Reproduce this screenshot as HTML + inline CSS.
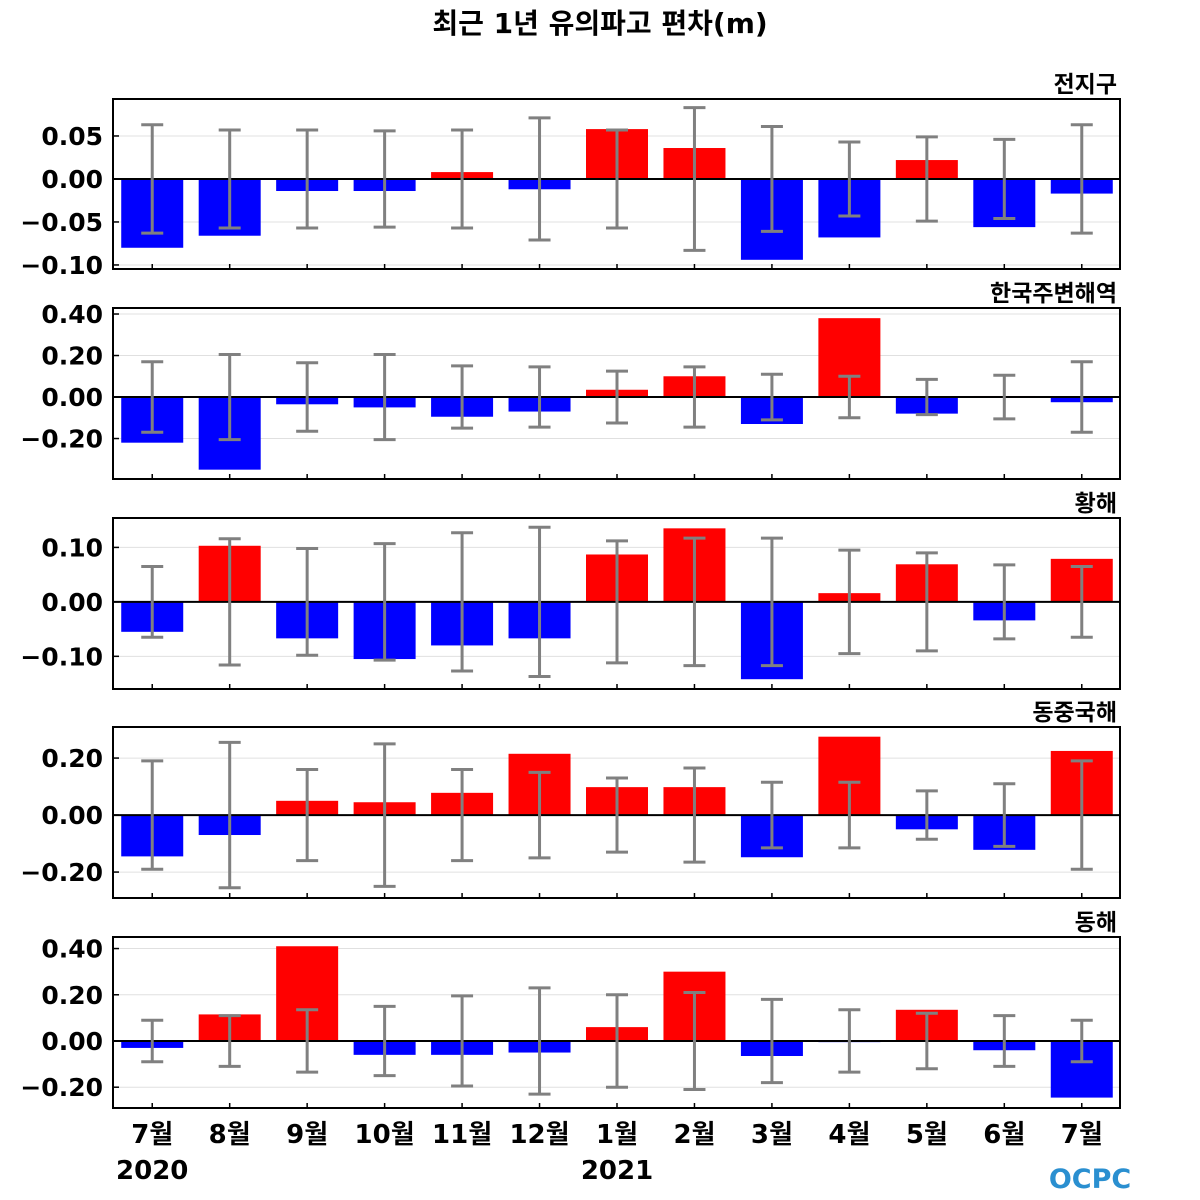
<!DOCTYPE html>
<html><head><meta charset="utf-8">
<style>
html,body{margin:0;padding:0;background:#fff;}
svg{display:block;font-family:"DejaVu Sans","Noto Sans CJK KR",sans-serif;}
</style></head>
<body>
<svg id="chart" width="1200" height="1200" viewBox="0 0 1200 1200">
<text x="600" y="33" text-anchor="middle" font-size="28" font-weight="bold">최근 1년 유의파고 편차(m)</text>
<g id="panels"></g>
<g id="xlabels"></g>
<g>
<text x="1090" y="1188" text-anchor="middle" font-size="27" font-weight="bold" fill="#2a8fd0">OCPC</text>
</g>
</svg>
<script>
const months = ["7월","8월","9월","10월","11월","12월","1월","2월","3월","4월","5월","6월","7월"];
const regionNames = ["전지구","한국주변해역","황해","동중국해","동해"];
const globalVals = [-0.080,-0.066,-0.014,-0.014,0.008,-0.012,0.058,0.036,-0.094,-0.068,0.022,-0.056,-0.017];
const globalErr = [0.063,0.057,0.057,0.056,0.057,0.071,0.057,0.083,0.061,0.043,0.049,0.046,0.063];
const koreaVals = [-0.22,-0.35,-0.035,-0.05,-0.095,-0.07,0.035,0.10,-0.13,0.38,-0.08,0.005,-0.025];
const koreaErr = [0.17,0.205,0.165,0.205,0.15,0.145,0.125,0.145,0.11,0.10,0.085,0.105,0.17];
const yellowVals = [-0.055,0.103,-0.067,-0.105,-0.08,-0.067,0.087,0.135,-0.142,0.016,0.069,-0.034,0.079];
const yellowErr = [0.065,0.116,0.098,0.107,0.127,0.137,0.112,0.117,0.117,0.095,0.090,0.068,0.065];
const ecsVals = [-0.145,-0.07,0.05,0.045,0.078,0.215,0.098,0.098,-0.148,0.275,-0.05,-0.122,0.225];
const ecsErr = [0.19,0.255,0.16,0.25,0.16,0.15,0.13,0.165,0.115,0.115,0.085,0.11,0.19];
const eastVals = [-0.03,0.115,0.41,-0.06,-0.06,-0.05,0.06,0.30,-0.065,-0.005,0.135,-0.04,-0.245];
const eastErr = [0.09,0.11,0.135,0.15,0.195,0.23,0.20,0.21,0.18,0.135,0.12,0.11,0.09];
const globalTicks = [0.05,0,-0.05,-0.10];
const koreaTicks = [0.40,0.20,0,-0.20];
const yellowTicks = [0.10,0,-0.10];
const ecsTicks = [0.20,0,-0.20];
const eastTicks = [0.40,0.20,0,-0.20];
const yearLabels = ["2020","2021"];

const NS="http://www.w3.org/2000/svg";
function mk(tag,attrs,parent){const e=document.createElementNS(NS,tag);for(const k in attrs)e.setAttribute(k,attrs[k]);parent.appendChild(e);return e;}
function fmt(v){const s=Math.abs(v).toFixed(2);return v<0?"\u2212"+s:s;}
const X0=113,X1=1120;
const step=(X1-X0)/13;
function xc(i){return X0+step*(i+0.5)+0.5;}
const panels=[
 {name:regionNames[0],vals:globalVals,err:globalErr,ticks:globalTicks,top:99,bot:269,ymax:0.093,ymin:-0.1047},
 {name:regionNames[1],vals:koreaVals,err:koreaErr,ticks:koreaTicks,top:308,bot:479,ymax:0.429,ymin:-0.395},
 {name:regionNames[2],vals:yellowVals,err:yellowErr,ticks:yellowTicks,top:518,bot:689,ymax:0.154,ymin:-0.160},
 {name:regionNames[3],vals:ecsVals,err:ecsErr,ticks:ecsTicks,top:727,bot:898,ymax:0.309,ymin:-0.291},
 {name:regionNames[4],vals:eastVals,err:eastErr,ticks:eastTicks,top:937,bot:1108,ymax:0.45,ymin:-0.29}
];
const root=document.getElementById("panels");
panels.forEach((p,pi)=>{
 const g=mk("g",{},root);
 
 
 const y=v=>p.top+(p.ymax-v)/(p.ymax-p.ymin)*(p.bot-p.top);
 p.ticks.forEach(t=>{
  if(t!==0){const gl=mk("line",{x1:X0,x2:X1,y1:y(t),y2:y(t),stroke:"#e0e0e0","stroke-width":1},g);
  
  }
  const tk=mk("line",{x1:X0,x2:X0+6,y1:y(t),y2:y(t),stroke:"#000","stroke-width":1.5},g);
  
  
  const tl=mk("text",{x:X0-10,y:y(t)+9,"text-anchor":"end","font-size":25,"font-weight":"bold"},g);
  tl.textContent=fmt(t);
  
  
 });
 p.vals.forEach((v,i)=>{
  const y0=y(0),yv=y(v);
  const r=mk("rect",{x:xc(i)-31,width:62,y:Math.min(y0,yv),height:Math.abs(yv-y0),fill:v>=0?"#ff0000":"#0000ff"},g);
  
  
 });
 const z=mk("line",{x1:X0,x2:X1,y1:y(0),y2:y(0),stroke:"#000","stroke-width":2},g);
 
 
 p.err.forEach((e,i)=>{
  const eg=mk("g",{stroke:"#808080","stroke-width":3},g);
  
  
  mk("line",{x1:xc(i),x2:xc(i),y1:y(e),y2:y(-e)},eg);
  mk("line",{x1:xc(i)-11,x2:xc(i)+11,y1:y(e),y2:y(e)},eg);
  mk("line",{x1:xc(i)-11,x2:xc(i)+11,y1:y(-e),y2:y(-e)},eg);
 });
 months.forEach((m,i)=>{
  const t=mk("line",{x1:xc(i),x2:xc(i),y1:p.bot,y2:p.bot-5,stroke:"#000","stroke-width":1.5},g);
  
  
 });
 const fr=mk("rect",{x:X0,y:p.top,width:X1-X0,height:p.bot-p.top,fill:"none",stroke:"#000","stroke-width":2},g);
 
 
 const tt=mk("text",{x:X1-3,y:p.top-7,"text-anchor":"end","font-size":23,"font-weight":"bold"},g);
 tt.textContent=p.name;
 
 
});
const xl=document.getElementById("xlabels");
months.forEach((m,i)=>{
 const t=mk("text",{x:xc(i),y:1143,"text-anchor":"middle","font-size":26,"font-weight":"bold"},xl);
 t.textContent=m;
 
 
});
[[0,yearLabels[0]],[6,yearLabels[1]]].forEach(([i,s])=>{
 const t=mk("text",{x:xc(i),y:1179,"text-anchor":"middle","font-size":26,"font-weight":"bold"},xl);
 t.textContent=s;
 
 
});
</script>
</body></html>
